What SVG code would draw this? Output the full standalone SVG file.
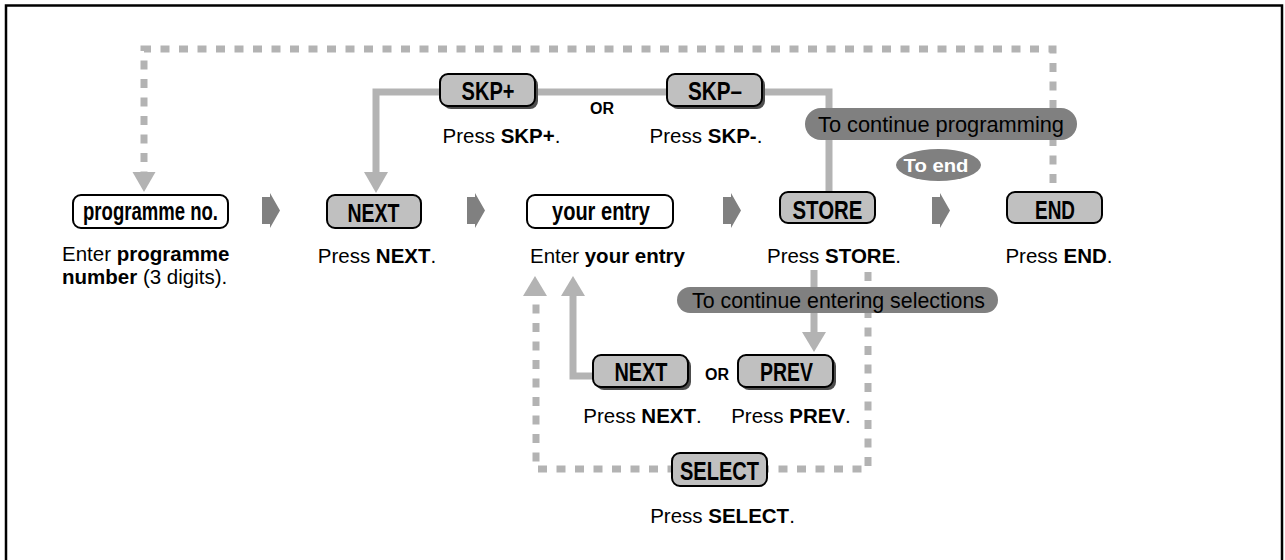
<svg xmlns="http://www.w3.org/2000/svg" width="1285" height="560" viewBox="0 0 1285 560">
<style>
.key{fill:#c0c0c0;stroke:#000;stroke-width:2}
.wkey{fill:#fff;stroke:#000;stroke-width:2}
.shadow{fill:#4d4d4d}
.kt{font-family:"Liberation Sans Narrow","Liberation Sans",Arial,sans-serif;font-weight:bold;font-size:26px;text-anchor:middle;fill:#000}
.lb{font-family:"Liberation Sans",Arial,sans-serif;font-size:20.5px;fill:#000}
.c{text-anchor:middle}
.b{font-weight:bold}
.pill{fill:#808080}
.pt{font-family:"Liberation Sans",Arial,sans-serif;font-size:22px;fill:#000;text-anchor:middle}
.dash{fill:none;stroke:#b3b3b3;stroke-width:7;stroke-dasharray:9 9.5}
.solid{fill:none;stroke:#b3b3b3;stroke-width:7}
.ah{fill:#b3b3b3}
.chev{fill:#808080}
.or{font-family:"Liberation Sans",Arial,sans-serif;font-weight:bold;font-size:16px;text-anchor:middle;fill:#000}
</style>
<rect x="0" y="0" width="1285" height="560" fill="#fff"/>
<rect x="6" y="5.5" width="1276" height="600" fill="none" stroke="#000" stroke-width="2.5"/>

<g id="connectors">
  <path class="dash" d="M1053,183 V49 H144 V172"/>
  <polygon class="ah" points="132.5,172 155.5,172 144,192"/>
  <path class="solid" d="M829,192 V92 H376 V172"/>
  <polygon class="ah" points="364,172 388,172 376,193"/>
  <path class="dash" d="M868,272 V469 H536 V296"/>
  <polygon class="ah" points="523,296 547,296 535,276"/>
  <path class="solid" d="M593,376 H573 V296"/>
  <polygon class="ah" points="561,296 585,296 573,276"/>
  <path class="solid" d="M814,270 V332"/>
  <polygon class="ah" points="802,332 826,332 814,352"/>
  <polygon class="chev" points="262,197 270,197 270,193 280,210.5 270,228 270,224 262,224"/>
  <polygon class="chev" points="467,197 475,197 475,193 485,210.5 475,228 475,224 467,224"/>
  <polygon class="chev" points="723,197 731,197 731,193 741,210.5 731,228 731,224 723,224"/>
  <polygon class="chev" points="932,197 940,197 940,193 950,210.5 940,228 940,224 932,224"/>
</g>

<g id="pill-continue-programming">
  <rect class="pill" x="805" y="108" width="272" height="32" rx="16"/>
  <text class="pt" x="941" y="132" textLength="246" lengthAdjust="spacingAndGlyphs">To continue programming</text>
</g>
<g id="pill-to-end">
  <ellipse class="pill" cx="938.5" cy="165" rx="42.5" ry="16"/>
  <text x="936" y="172" font-family="Liberation Sans, Arial, sans-serif" font-weight="bold" font-size="18" fill="#fff" text-anchor="middle" textLength="65" lengthAdjust="spacingAndGlyphs">To end</text>
</g>
<g id="pill-continue-entering">
  <rect class="pill" x="677" y="287" width="321" height="26" rx="13"/>
  <text class="pt" x="838.5" y="308" textLength="293" lengthAdjust="spacingAndGlyphs">To continue entering selections</text>
</g>

<g id="node-skp-plus">
  <rect class="shadow" x="443" y="77" width="95" height="32" rx="8"/>
  <rect class="key" x="440" y="74" width="95" height="32" rx="8"/>
  <text class="kt" x="488" y="100" textLength="53" lengthAdjust="spacingAndGlyphs">SKP+</text>
  <text class="lb c" x="501.5" y="143">Press <tspan class="b">SKP+</tspan>.</text>
</g>
<text id="or-top" class="or" x="602" y="114">OR</text>
<g id="node-skp-minus">
  <rect class="shadow" x="670" y="77" width="95" height="32" rx="8"/>
  <rect class="key" x="667" y="74" width="95" height="32" rx="8"/>
  <text class="kt" x="715" y="100" textLength="54" lengthAdjust="spacingAndGlyphs">SKP–</text>
  <text class="lb c" x="706" y="143">Press <tspan class="b">SKP-</tspan>.</text>
</g>

<g id="node-programme-no">
  <rect class="wkey" x="73" y="195" width="155" height="33" rx="8"/>
  <text class="kt" x="150.5" y="220" textLength="135" lengthAdjust="spacingAndGlyphs">programme no.</text>
  <text class="lb" x="62" y="261" font-size="20">Enter <tspan class="b">programme</tspan></text>
  <text class="lb" x="62" y="284" font-size="20"><tspan class="b">number</tspan> (3 digits).</text>
</g>
<g id="node-next">
  <rect class="key" x="327" y="195" width="94" height="33" rx="8"/>
  <text class="kt" x="373.5" y="222" textLength="52" lengthAdjust="spacingAndGlyphs">NEXT</text>
  <text class="lb c" x="377" y="263">Press <tspan class="b">NEXT</tspan>.</text>
</g>
<g id="node-your-entry">
  <rect class="wkey" x="527" y="195" width="146" height="33" rx="8"/>
  <text class="kt" x="601" y="220" textLength="98" lengthAdjust="spacingAndGlyphs">your entry</text>
  <text class="lb c" x="607.5" y="263">Enter <tspan class="b">your entry</tspan></text>
</g>
<g id="node-store">
  <rect class="key" x="780" y="192" width="95" height="31" rx="8"/>
  <text class="kt" x="827.5" y="219" textLength="70" lengthAdjust="spacingAndGlyphs">STORE</text>
  <text class="lb c" x="834" y="263">Press <tspan class="b">STORE</tspan>.</text>
</g>
<g id="node-end">
  <rect class="key" x="1007" y="192" width="95" height="31" rx="8"/>
  <text class="kt" x="1055" y="219" textLength="40" lengthAdjust="spacingAndGlyphs">END</text>
  <text class="lb c" x="1059" y="263">Press <tspan class="b">END</tspan>.</text>
</g>

<g id="node-next-lower">
  <rect class="shadow" x="596" y="358" width="95" height="32" rx="8"/>
  <rect class="key" x="593" y="355" width="95" height="32" rx="8"/>
  <text class="kt" x="641" y="381" textLength="53" lengthAdjust="spacingAndGlyphs">NEXT</text>
  <text class="lb c" x="642.5" y="423">Press <tspan class="b">NEXT</tspan>.</text>
</g>
<text id="or-lower" class="or" x="717" y="380">OR</text>
<g id="node-prev">
  <rect class="shadow" x="741" y="358" width="95" height="32" rx="8"/>
  <rect class="key" x="738" y="355" width="95" height="32" rx="8"/>
  <text class="kt" x="786.5" y="381" textLength="53" lengthAdjust="spacingAndGlyphs">PREV</text>
  <text class="lb c" x="791" y="423">Press <tspan class="b">PREV</tspan>.</text>
</g>
<g id="node-select">
  <rect class="key" x="672" y="453" width="95" height="33" rx="8"/>
  <text class="kt" x="719.5" y="480" textLength="79" lengthAdjust="spacingAndGlyphs">SELECT</text>
  <text class="lb c" x="722.5" y="523">Press <tspan class="b">SELECT</tspan>.</text>
</g>
</svg>
